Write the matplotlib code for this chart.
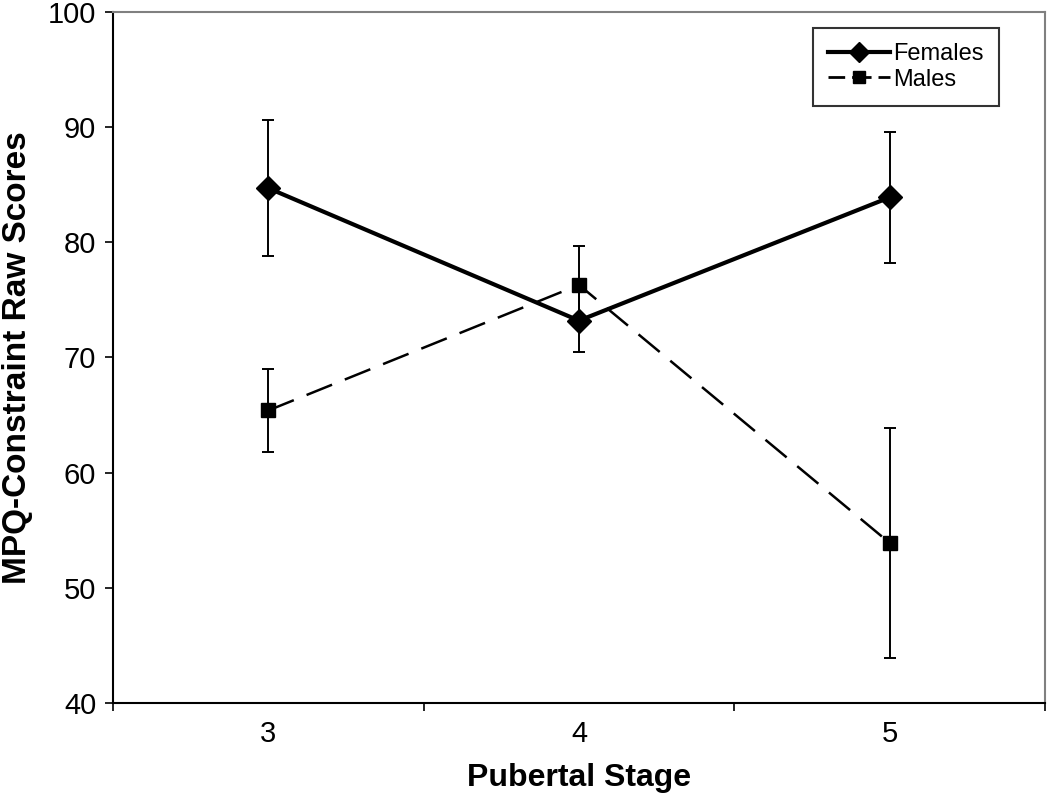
import matplotlib
matplotlib.use("Agg")
import matplotlib.pyplot as plt
from matplotlib.lines import Line2D

stages = [3, 4, 5]
females = [84.7, 73.2, 83.9]
females_err = [5.9, 2.7, 5.7]
males = [65.4, 76.3, 53.9]
males_err = [3.6, 3.4, 10.0]

plt.rcParams['font.family'] = ['Liberation Sans', 'DejaVu Sans']

fig = plt.figure(figsize=(10.5, 7.96), dpi=100)
ax = fig.add_axes([0.1076, 0.1168, 0.8876, 0.8682])

male_ls = (0, (11, 5.5))
ax.errorbar(stages, males, yerr=males_err, color='black', lw=1.8,
            linestyle=male_ls, marker='s', markersize=10,
            elinewidth=1.4, capsize=4.3, capthick=1.4, zorder=3)
ax.errorbar(stages, females, yerr=females_err, color='black', lw=3,
            linestyle='-', marker='D', markersize=12,
            elinewidth=1.4, capsize=4.3, capthick=1.4, zorder=4)

ax.set_xlim(2.5, 5.5)
ax.set_ylim(40, 100)
ax.set_yticks(range(40, 101, 10))
ax.set_xticks(stages)
ax.set_xticks([2.5, 3.5, 4.5, 5.5], minor=True)
ax.tick_params(axis='x', which='major', length=0, pad=12, labelsize=21)
ax.tick_params(axis='x', which='minor', length=6, width=1.2, direction='out')
ax.tick_params(axis='y', length=6, width=1.2, direction='out', labelsize=21, pad=6)

for s in ['left', 'bottom']:
    ax.spines[s].set_color('black')
    ax.spines[s].set_linewidth(1.5)
for s in ['top', 'right']:
    ax.spines[s].set_color('#808080')
    ax.spines[s].set_linewidth(1.5)

ax.set_xlabel('Pubertal Stage', fontsize=23, fontweight='bold', labelpad=11)
ax.set_ylabel('MPQ-Constraint Raw Scores', fontsize=24, fontweight='bold', labelpad=11)

handles = [
    Line2D([], [], color='black', lw=3, marker='D', markersize=10),
    Line2D([], [], color='black', lw=2, linestyle=(1, (7, 2.5)), marker='s', markersize=9),
]
leg = ax.legend(handles, ['Females', 'Males'], loc='upper left',
                bbox_to_anchor=(0.751, 0.977), fontsize=17, frameon=True,
                fancybox=False, edgecolor='black', handlelength=2.6,
                handletextpad=0.15, borderpad=0.65, labelspacing=0.15,
                borderaxespad=0)
leg.get_frame().set_linewidth(1.5)

fig.savefig('out.png', dpi=100, facecolor='white')
